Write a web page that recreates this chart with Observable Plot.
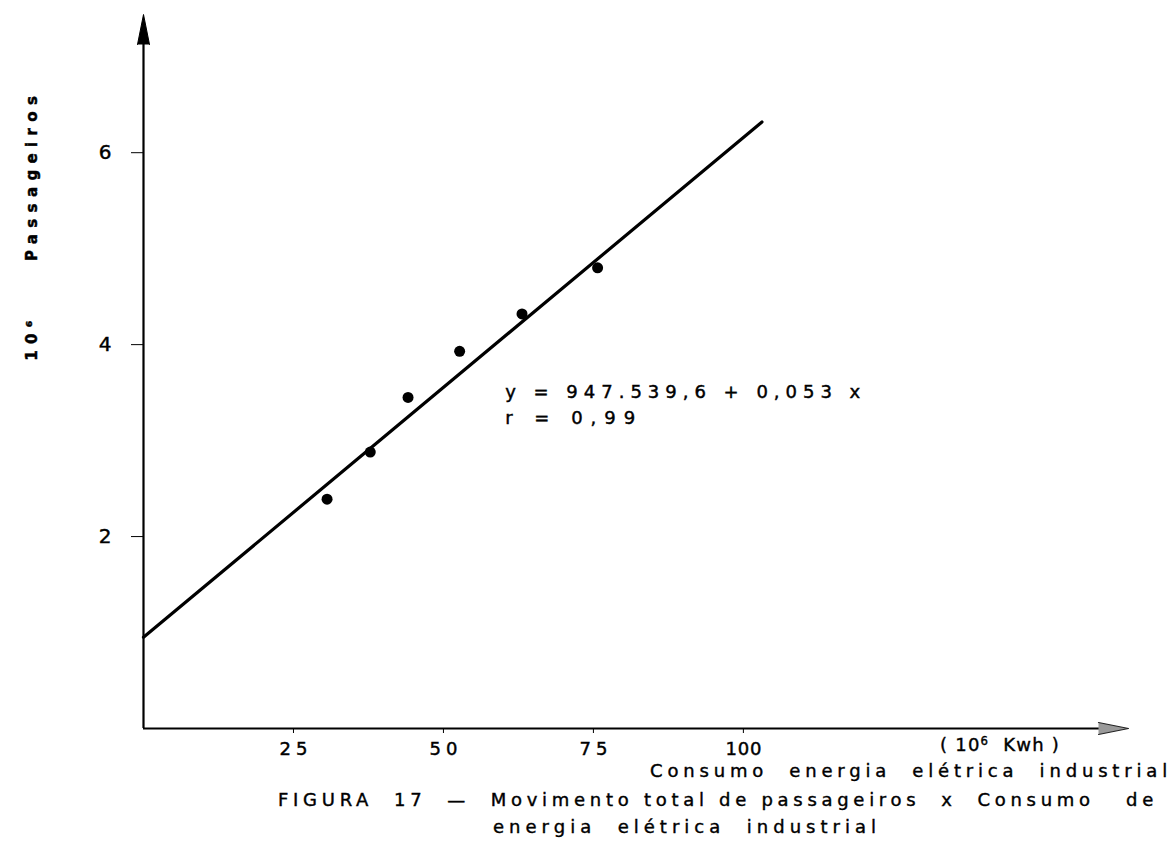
<!DOCTYPE html>
<html><head><meta charset="utf-8">
<script src="https://cdn.jsdelivr.net/npm/d3@7"></script>
<script src="https://cdn.jsdelivr.net/npm/@observablehq/plot@0.6"></script>
<style>
body{margin:0;background:#fff;}
#wrap{position:relative;width:1176px;height:847px;overflow:hidden;font-family:"DejaVu Sans",sans-serif;color:#000;background:#fff;}
#wrap svg{position:absolute;left:0;top:0;}
#wrap svg text{stroke:#000;stroke-width:0.45px;}
.cap{position:absolute;white-space:pre;line-height:1;font-family:"DejaVu Sans",sans-serif;-webkit-text-stroke:0.4px #000;}
.cap sup{font-size:65%;vertical-align:0.55em;line-height:0;}
</style></head><body><div id="wrap"></div>
<script>
// Observations: industrial electric consumption (10^6 kWh) vs passengers (10^6)
const consumo = [30.6, 37.8, 44.1, 52.7, 63.1, 75.7];
const passageiros = [2.39, 2.88, 3.45, 3.93, 4.32, 4.80];
// Fitted regression line, endpoints
const fitConsumo = [0, 103.1];
const fitPassageiros = [0.95, 6.32];
// Axis ticks and extents
const xTicks = [25, 50, 75, 100];
const yTicks = [2, 4, 6];
const xMax = 164.2;
const yMax = 7.44;
// Texts
const equationLines = ["y = 947.539,6 + 0,053 x", "r = 0,99"];
const equationX = [60.3, 60.3];
const equationY = [3.5, 3.23];
const yTitleParts = ["10⁶", "Passageiros"];
const yTitleY = [4.04, 5.73];
const xUnit = "( 10<sup>6</sup>  Kwh )";
const xTitle = "Consumo  energia  elétrica  industrial";
const captionLines = ["FIGURA  17  —  Movimento total de passageiros  x  Consumo   de", "energia  elétrica  industrial"];

const points = consumo.map((c, i) => ({x: c, y: passageiros[i]}));
const fit = fitConsumo.map((c, i) => ({x: c, y: fitPassageiros[i]}));
const eq = equationLines.map((t, i) => ({t, x: equationX[i], y: equationY[i]}));
const yt = yTitleParts.map((t, i) => ({t, y: yTitleY[i]}));

const svg = Plot.plot({
  width: 1176, height: 784,
  marginTop: 14, marginBottom: 56, marginLeft: 143, marginRight: 48,
  style: {fontFamily: "DejaVu Sans, sans-serif", color: "#000", background: "#fff"},
  x: {domain: [0, xMax], axis: null},
  y: {domain: [0, yMax], axis: null},
  marks: [
    Plot.ruleX([0], {y1: 0, y2: yMax - 0.2, stroke: "#000", strokeWidth: 2.2}),
    Plot.ruleY([0], {x1: 0, x2: xMax - 3, stroke: "#000", strokeWidth: 1.8}),
    Plot.vector([{x: 0, y: yMax}], {x: "x", y: "y", anchor: "end", shape: "spike", length: 30, r: 6, rotate: 0, fill: "#000", stroke: "#000", strokeWidth: 1}),
    Plot.vector([{x: xMax, y: 0}], {x: "x", y: "y", anchor: "end", shape: "spike", length: 30, r: 6, rotate: 90, fill: "#9a9a9a", stroke: "#222", strokeWidth: 1.2}),
    Plot.axisY(yTicks, {anchor: "left", tickSize: 12, tickPadding: 20, fontSize: 20, label: null, tickFormat: d => `${d}`}),
    Plot.axisX(xTicks, {anchor: "bottom", tickSize: 5, tickPadding: 9, fontSize: 18, label: null, tickFormat: d => `${d}`}),
    Plot.line(fit, {x: "x", y: "y", stroke: "#000", strokeWidth: 3.2}),
    Plot.dot(points, {x: "x", y: "y", r: 5.5, fill: "#000", stroke: "none"}),
    Plot.text(eq, {x: "x", y: "y", text: "t", textAnchor: "start", fontSize: 18, fill: "#000"}),
    Plot.text(yt, {y: "y", text: "t", frameAnchor: "left", textAnchor: "middle", dx: -111, rotate: -90, fontSize: 15, fontWeight: "bold", fill: "#000"})
  ]
});

const lengths = {
  "y = 947.539,6 + 0,053 x": 355,
  "r = 0,99": 130,
  "25": 28, "50": 28, "75": 28, "100": 36,
  "Passageiros": 165,
  "10⁶": 40
};
d3.select(svg).selectAll("text").each(function() {
  const t = this.textContent;
  if (lengths[t]) {
    d3.select(this).attr("textLength", lengths[t]).attr("lengthAdjust", "spacing");
  }
});

const wrap = document.getElementById("wrap");
wrap.appendChild(svg);

function placeText(html, left, centerY, width, size) {
  const d = document.createElement("div");
  d.className = "cap";
  d.innerHTML = html;
  d.style.fontSize = size + "px";
  d.style.left = left + "px";
  d.style.top = (centerY - size * 0.55) + "px";
  wrap.appendChild(d);
  const n = d.textContent.length;
  const w0 = d.getBoundingClientRect().width;
  d.style.letterSpacing = ((width - w0) / n) + "px";
}

placeText(xUnit, 940, 746, 120, 18);
placeText(xTitle, 650, 772, 522, 18);
placeText(captionLines[0], 278, 801, 880, 18);
placeText(captionLines[1], 493, 828, 388, 18);
</script></body></html>
